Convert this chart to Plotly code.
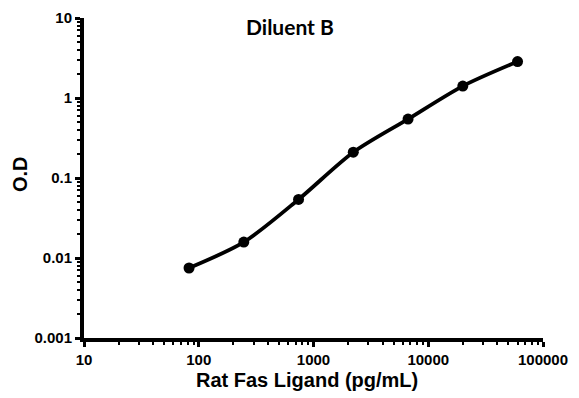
import plotly.graph_objects as go

concentration = [82.3, 246.9, 740.7, 2222, 6667, 20000, 60000]
od_values = [0.0075, 0.0158, 0.054, 0.21, 0.545, 1.41, 2.85]

x_tick_vals = [10, 100, 1000, 10000, 100000]
x_tick_text = ["10", "100", "1000", "10000", "100000"]
y_tick_vals = [0.001, 0.01, 0.1, 1, 10]
y_tick_text = ["0.001", "0.01", "0.1", "1", "10"]

W, H = 579, 398
l, r, t, b = 84, 36, 18, 60
pw, ph = W - l - r, H - t - b


def px(xp):
    return (xp - l) / pw


def py(yp):
    return (H - b - yp) / ph


fig = go.Figure()
fig.add_trace(go.Scatter(
    x=concentration, y=od_values, mode="lines+markers",
    line=dict(color="black", width=3.8, shape="spline", smoothing=0.8),
    marker=dict(color="black", size=11),
    showlegend=False,
))

axis_font = dict(family="Liberation Sans, Arial", size=15, color="black", weight="bold")
title_font = dict(family="Liberation Sans, Arial", size=20, color="black", weight="bold")
fig.update_layout(
    width=W, height=H,
    margin=dict(l=l, r=r, t=t, b=b),
    paper_bgcolor="white", plot_bgcolor="white",
)
fig.add_annotation(text="Diluent B", x=px(290), y=py(27), xref="paper", yref="paper",
                   xanchor="center", yanchor="middle", showarrow=False,
                   font=dict(family="Lato, Open Sans", size=21, color="black", weight="bold"))
fig.add_annotation(text="Rat Fas Ligand (pg/mL)", x=px(307), y=py(380), xref="paper", yref="paper",
                   xanchor="center", yanchor="middle", showarrow=False, font=title_font)
fig.add_annotation(text="O.D", x=px(20), y=py(174), xref="paper", yref="paper",
                   xanchor="center", yanchor="middle", showarrow=False, textangle=-90, font=title_font)

fig.update_xaxes(
    type="log", range=[1, 5], tickmode="array", tickvals=x_tick_vals, ticktext=x_tick_text,
    showline=True, linecolor="black", linewidth=4, showgrid=False, zeroline=False, automargin=False,
    ticks="outside", ticklen=5, tickwidth=3, tickcolor="black", tickfont=axis_font,
    minor=dict(ticks="outside", ticklen=3, tickwidth=2, tickcolor="black", showgrid=False,
               tickvals=[m * 10 ** e for e in range(1, 5) for m in range(2, 10)]),
)
fig.update_yaxes(
    type="log", range=[-3, 1], tickmode="array", tickvals=y_tick_vals, ticktext=y_tick_text,
    showline=True, linecolor="black", linewidth=4, showgrid=False, zeroline=False, automargin=False,
    ticks="outside", ticklen=5, tickwidth=3, tickcolor="black", tickfont=axis_font,
    minor=dict(ticks="outside", ticklen=3, tickwidth=2, tickcolor="black", showgrid=False,
               tickvals=[m * 10 ** e for e in range(-3, 1) for m in range(2, 10)]),
)
fig.write_html("out.html", config={"displayModeBar": False},
               post_script="document.body.style.margin='0';")
